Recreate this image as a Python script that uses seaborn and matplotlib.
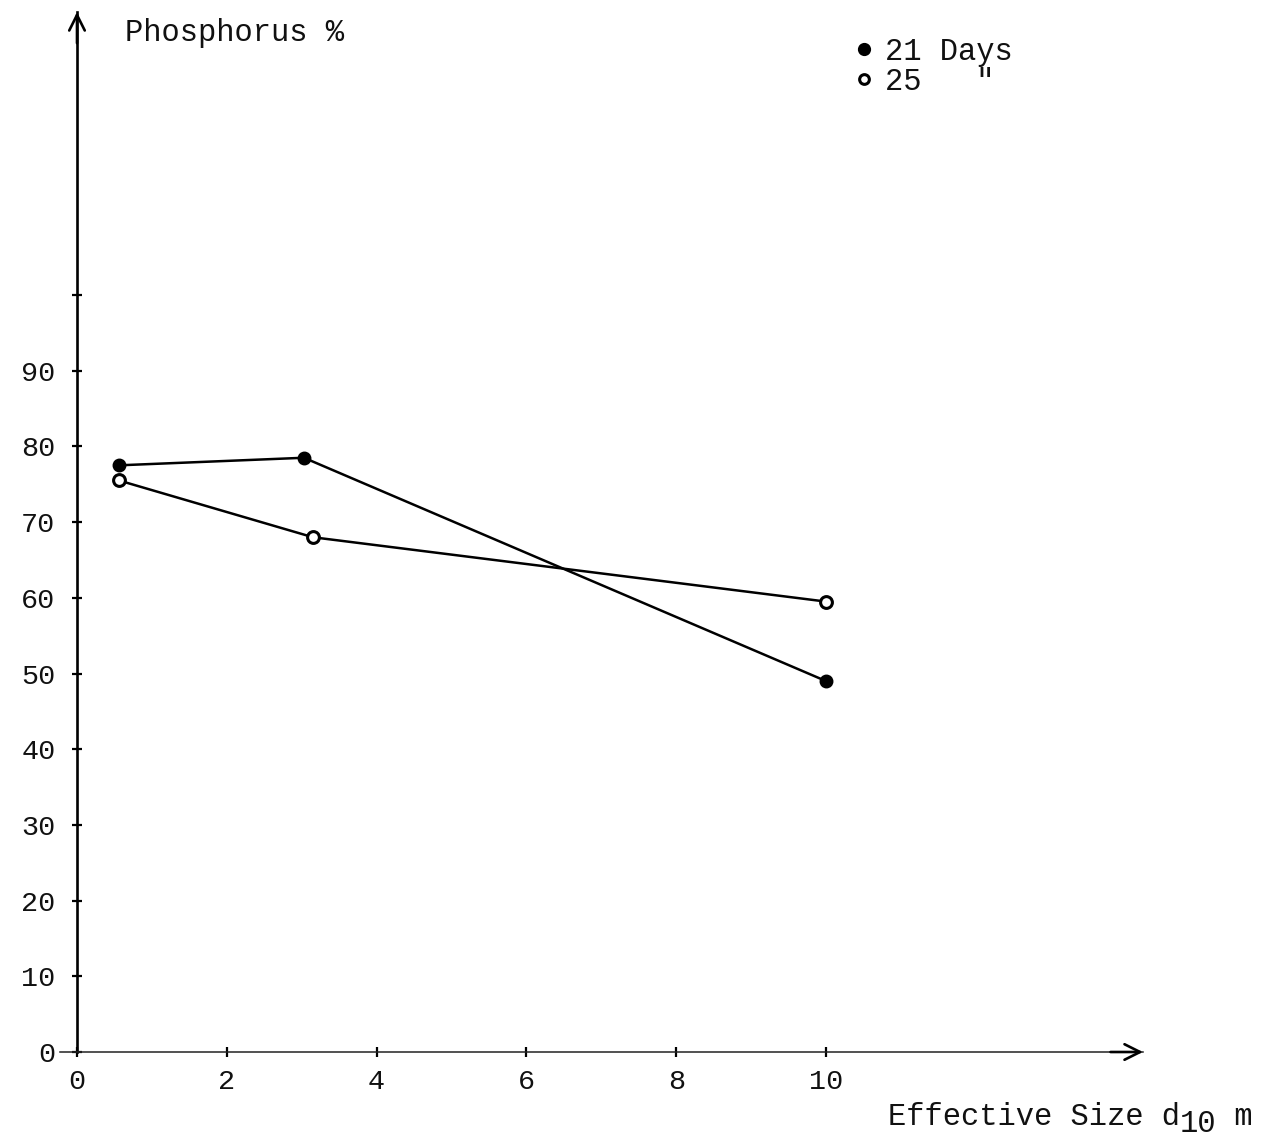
import matplotlib
matplotlib.use("Agg")
import matplotlib.pyplot as plt
from matplotlib.lines import Line2D
import seaborn as sns
import pandas as pd

# ---- data ----
x_21 = [0.56, 3.03, 10.0]
y_21 = [77.5, 78.5, 49.0]
x_25 = [0.56, 3.15, 10.0]
y_25 = [75.5, 68.0, 59.5]
series_labels = ["21 Days", '25   "']
x_ticks = [0, 2, 4, 6, 8, 10]
y_ticks = [0, 10, 20, 30, 40, 50, 60, 70, 80, 90, 100]
y_tick_labels = ["0", "10", "20", "30", "40", "50", "60", "70", "80", "90", ""]
y_label_text = "Phosphorus %"
x_label_main = "Effective Size d"
x_label_sub = "10"
x_label_unit = " m"

sns.set_theme(style="white")
FONT = ["Liberation Mono", "DejaVu Sans Mono"]
plt.rcParams["font.family"] = FONT

W, H = 1281, 1143
PX_X = 74.9   # pixels per x unit
X0_PX = 77    # pixel of x = 0
fig = plt.figure(figsize=(W / 100, H / 100), dpi=100)
fig.patch.set_facecolor("white")
ax_left_px = 60
ax = fig.add_axes([ax_left_px / W, (H - 1052) / H, (1143 - ax_left_px) / W, (1052 - 12) / H])
ax.set_facecolor("white")

df21 = pd.DataFrame({"x": x_21, "y": y_21})
df25 = pd.DataFrame({"x": x_25, "y": y_25})
sns.lineplot(data=df21, x="x", y="y", ax=ax, color="black", lw=1.8,
             marker="o", markersize=8.5, markerfacecolor="black",
             markeredgecolor="black", markeredgewidth=1.5, sort=False, zorder=3)
sns.lineplot(data=df25, x="x", y="y", ax=ax, color="black", lw=1.8,
             marker="o", markersize=8.5, markerfacecolor="white",
             markeredgecolor="black", markeredgewidth=2.2, sort=False, zorder=3)

ax.set_xlim(-(X0_PX - ax_left_px) / PX_X, (1143 - X0_PX) / PX_X)
ax.set_ylim(0, (1052 - 12) / 7.57)

for s in ["top", "right"]:
    ax.spines[s].set_visible(False)
ax.spines["left"].set_position(("data", 0))
ax.spines["left"].set_linewidth(1.9)
ax.spines["left"].set_color("black")
ax.spines["bottom"].set_linewidth(1.1)
ax.spines["bottom"].set_color("#222222")

ax.set_xticks(x_ticks)
ax.set_xticklabels([str(t) for t in x_ticks])
ax.set_yticks(y_ticks)
ax.set_yticklabels(y_tick_labels)
ax.tick_params(axis="both", which="major", direction="inout", length=7,
               width=1.6, color="black", labelsize=20.5, labelcolor="#111111")
ax.tick_params(axis="y", pad=12, left=True)
ax.tick_params(axis="x", pad=9, bottom=True)
ax.set_xlabel("")
ax.set_ylabel("")
ax.grid(False)

# arrow heads
ax.annotate("", xy=(0, 1.0), xycoords=("data", "axes fraction"), xytext=(0, 0.97),
            textcoords=("data", "axes fraction"),
            arrowprops=dict(arrowstyle="->", lw=1.9, color="black",
                            mutation_scale=28, shrinkA=0, shrinkB=0))
ax.annotate("", xy=(1.0, 0), xycoords="axes fraction", xytext=(0.97, 0),
            arrowprops=dict(arrowstyle="->", lw=1.9, color="black",
                            mutation_scale=28, shrinkA=0, shrinkB=0))

fig.text(125 / W, 1 - 33 / H, y_label_text, fontsize=22, va="center",
         ha="left", color="#111111")
t1 = fig.text(888 / W, 1 - 1117 / H, x_label_main, fontsize=22, va="center",
              ha="left", color="#111111")
t2 = ax.annotate(x_label_sub, xy=(1, 0.5), xycoords=t1, xytext=(0, -7),
                 textcoords="offset pixels", fontsize=22, va="center",
                 ha="left", color="#111111", annotation_clip=False)
t3 = ax.annotate(x_label_unit, xy=(1, 0.5), xycoords=t2, xytext=(0, 7),
                 textcoords="offset pixels", fontsize=22, va="center",
                 ha="left", color="#111111", annotation_clip=False)

handles = [
    Line2D([], [], ls="none", marker="o", markersize=8, markerfacecolor="black",
           markeredgecolor="black", markeredgewidth=1.5),
    Line2D([], [], ls="none", marker="o", markersize=7, markerfacecolor="white",
           markeredgecolor="black", markeredgewidth=2.2),
]
leg = fig.legend(handles, series_labels, loc="upper left",
                 bbox_to_anchor=(856 / W, 1 - 37 / H), frameon=False,
                 prop={"family": FONT, "size": 22}, handlelength=0.5,
                 handletextpad=0.45, labelspacing=0.0, borderpad=0,
                 borderaxespad=0)
for t in leg.get_texts():
    t.set_color("#111111")

fig.savefig("out.png", dpi=100, facecolor="white")
